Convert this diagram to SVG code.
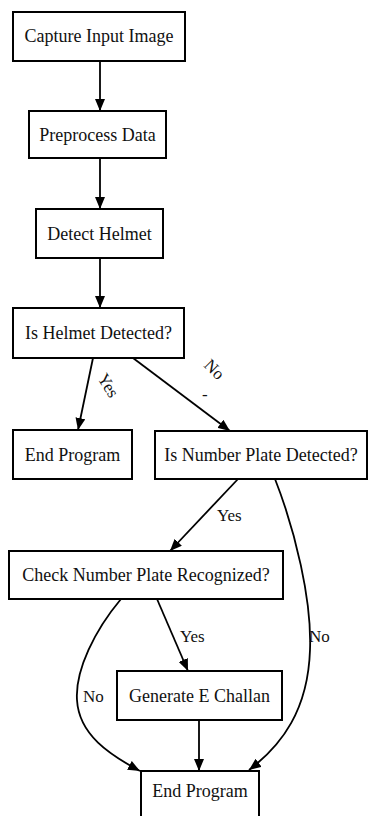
<svg xmlns="http://www.w3.org/2000/svg" width="368" height="816" viewBox="0 0 368 816">
<defs>
<marker id="ah" viewBox="0 0 12 10" refX="12" refY="5" markerWidth="12" markerHeight="10" markerUnits="userSpaceOnUse" orient="auto">
<path d="M0,0 L12,5 L0,10 Z" fill="#000"/>
</marker>
<style>
.box{fill:#fff;stroke:#000;stroke-width:2}
.t{font-family:"Liberation Serif","Times New Roman",serif;font-size:18px;fill:#111;text-anchor:middle}
.e{fill:none;stroke:#000;stroke-width:1.8;marker-end:url(#ah)}
.l{font-family:"Liberation Serif","Times New Roman",serif;font-size:17px;fill:#111}
</style>
</defs>
<rect width="368" height="816" fill="#fff"/>
<g id="connectors">
<path class="e" d="M100,61 L100,111"/>
<path class="e" d="M100,158 L100,209"/>
<path class="e" d="M100,258 L100,308"/>
<path class="e" d="M93,358 L78,430"/>
<path class="e" d="M133,358 L230,431"/>
<path class="e" d="M238,479 L170,551"/>
<path class="e" d="M275,479 C295,530 312,600 310,650 C308,710 282,745 249,770"/>
<path class="e" d="M157,599 L188,671"/>
<path class="e" d="M121,599 C95,630 75,670 77,700 C79,735 110,755 140,771"/>
<path class="e" d="M199,720 L199,771"/>
<text class="l" transform="translate(97,378) rotate(58)">Yes</text>
<text class="l" transform="translate(203,366) rotate(45)">No</text>
<text class="l" x="202" y="400" font-size="10">-</text>
<text class="l" x="217" y="521">Yes</text>
<text class="l" x="180" y="642">Yes</text>
<text class="l" x="309" y="642">No</text>
<text class="l" x="83" y="702">No</text>
</g>
<g id="n1"><rect class="box" x="13" y="12" width="172" height="49"/><text class="t" x="99" y="42">Capture Input Image</text></g>
<g id="n2"><rect class="box" x="29" y="111" width="137" height="47"/><text class="t" x="97.5" y="141">Preprocess Data</text></g>
<g id="n3"><rect class="box" x="36" y="209" width="127" height="49"/><text class="t" x="99.5" y="240">Detect Helmet</text></g>
<g id="n4"><rect class="box" x="13" y="308" width="171" height="50"/><text class="t" x="98.5" y="339">Is Helmet Detected?</text></g>
<g id="n5"><rect class="box" x="13" y="430" width="119" height="49"/><text class="t" x="72.5" y="461">End Program</text></g>
<g id="n6"><rect class="box" x="155" y="431" width="212" height="48"/><text class="t" x="261" y="461">Is Number Plate Detected?</text></g>
<g id="n7"><rect class="box" x="9" y="551" width="274" height="48"/><text class="t" x="146" y="581">Check Number Plate Recognized?</text></g>
<g id="n8"><rect class="box" x="117" y="671" width="165" height="49"/><text class="t" x="199.5" y="702">Generate E Challan</text></g>
<g id="n9"><rect class="box" x="141" y="771" width="118" height="60"/><text class="t" x="200" y="797">End Program</text></g>
</svg>
